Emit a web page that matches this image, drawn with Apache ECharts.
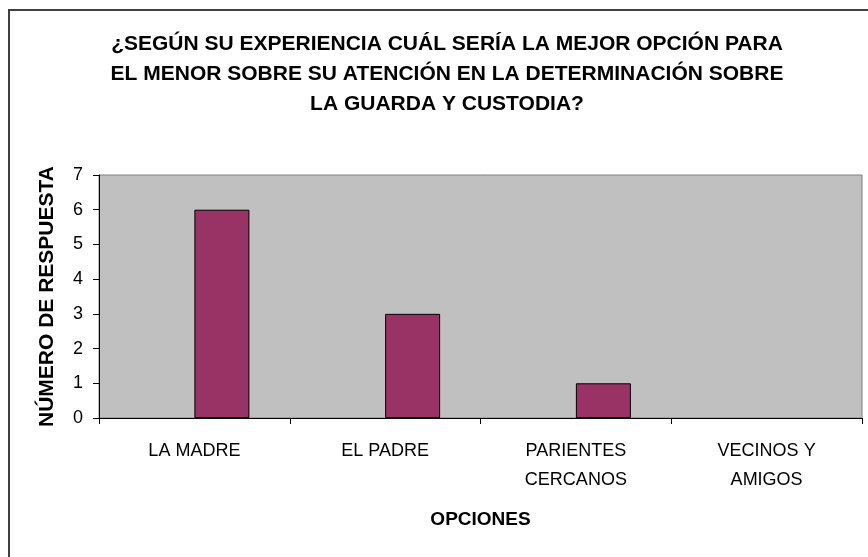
<!DOCTYPE html>
<html>
<head>
<meta charset="utf-8">
<script src="https://cdn.jsdelivr.net/npm/echarts@6/dist/echarts.min.js"></script>
<style>
  html, body { margin: 0; padding: 0; background: #ffffff; }
  #chart { width: 868px; height: 557px; }
</style>
</head>
<body>
<div id="chart"></div>
<script>
const titleText = '¿SEGÚN SU EXPERIENCIA CUÁL SERÍA LA MEJOR OPCIÓN PARA\nEL MENOR SOBRE SU ATENCIÓN EN LA DETERMINACIÓN SOBRE\nLA GUARDA Y CUSTODIA?';
const categories = ['LA MADRE', 'EL PADRE', 'PARIENTES\nCERCANOS', 'VECINOS Y\nAMIGOS'];
const respuestas = [6, 3, 1, 0];
const placeholder = [];
const yMin = 0, yMax = 7, yInterval = 1;
const xName = 'OPCIONES';
const yName = 'NÚMERO DE RESPUESTA';

const barData = respuestas.map(v => v === 0 ? { value: v, itemStyle: { borderWidth: 0 } } : v);

const chart = echarts.init(document.getElementById('chart'), null, { renderer: 'canvas' });
chart.setOption({
  animation: false,
  backgroundColor: '#ffffff',
  graphic: [{
    type: 'rect',
    shape: { x: 9, y: 10, width: 900, height: 600 },
    style: { fill: 'none', stroke: '#404040', lineWidth: 2 },
    z: -1
  }],
  title: {
    text: titleText,
    left: 442,
    top: 24,
    textAlign: 'center',
    textStyle: {
      fontFamily: 'Liberation Sans, Arial, sans-serif',
      fontWeight: 'bold',
      fontSize: 21,
      lineHeight: 30,
      color: '#000000'
    }
  },
  grid: {
    left: 99, right: 6, top: 175, bottom: 139,
    show: true,
    backgroundColor: '#c0c0c0',
    borderColor: '#808080',
    borderWidth: 1
  },
  xAxis: {
    type: 'category',
    data: categories,
    name: xName,
    nameLocation: 'middle',
    nameGap: 92,
    nameTextStyle: {
      fontFamily: 'Liberation Sans, Arial, sans-serif',
      fontWeight: 'bold', fontSize: 19, color: '#000000'
    },
    axisLine: { lineStyle: { color: '#000000', width: 1 } },
    axisTick: { show: true, length: 6, lineStyle: { color: '#000000' } },
    axisLabel: {
      interval: 0,
      margin: 19,
      fontFamily: 'Liberation Sans, Arial, sans-serif',
      fontSize: 18,
      lineHeight: 29,
      color: '#000000'
    },
    splitLine: { show: false }
  },
  yAxis: {
    type: 'value',
    min: yMin, max: yMax, interval: yInterval,
    name: yName,
    nameLocation: 'middle',
    nameRotate: 90,
    nameGap: 41,
    nameTextStyle: {
      fontFamily: 'Liberation Sans, Arial, sans-serif',
      fontWeight: 'bold', fontSize: 21, color: '#000000'
    },
    axisLine: { show: true, lineStyle: { color: '#000000', width: 1 } },
    axisTick: { show: true, length: 6, lineStyle: { color: '#000000' } },
    axisLabel: {
      margin: 16,
      fontFamily: 'Liberation Sans, Arial, sans-serif',
      fontSize: 18,
      color: '#000000'
    },
    splitLine: { show: false }
  },
  series: [
    {
      type: 'bar',
      data: placeholder,
      barWidth: 55,
      barGap: '0%'
    },
    {
      type: 'bar',
      data: barData,
      barWidth: 55,
      barGap: '0%',
      itemStyle: { color: '#993366', borderColor: '#000000', borderWidth: 1 }
    }
  ]
});
</script>
</body>
</html>
